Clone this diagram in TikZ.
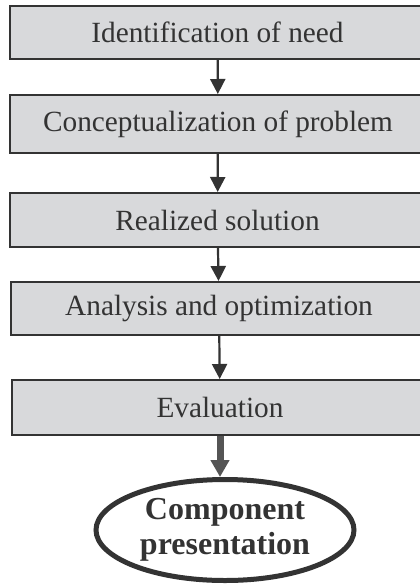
\documentclass[tikz,border=0pt]{standalone}
\usepackage{fontspec}
\setmainfont{Liberation Serif}
\usetikzlibrary{shapes.geometric,arrows.meta}
\definecolor{boxfill}{HTML}{D8D9DB}
\definecolor{inkdark}{HTML}{333333}
\definecolor{arrowgray}{HTML}{555555}
\begin{document}
\begin{tikzpicture}[x=1pt,y=-1pt,
  stagebox/.style={rectangle, draw=inkdark, fill=boxfill, line width=2pt,
    inner sep=0pt, text=inkdark, font=\fontsize{29.3}{34}\selectfont},
  thinarr/.style={draw=inkdark, line width=2.2pt,
    -{Triangle[length=15pt,width=15pt]}},
  thickarr/.style={draw=arrowgray, line width=7pt,
    -{Triangle[length=17pt,width=18pt]}},
  outcome/.style={ellipse, draw=inkdark, line width=5pt, inner sep=0pt,
    align=center, text=inkdark,
    font=\bfseries\fontsize{32}{35.5}\selectfont}]
  % page frame; the stage boxes run past the right edge
  \clip (0,0) rectangle (420,584);

  % stages of the process
  \node[stagebox, minimum width=416pt, minimum height=53pt] (need)    at (217.5,32.5) {Identification of need};
  \node[stagebox, minimum width=417pt, minimum height=58pt] (concept) at (218,124)    {Conceptualization of problem};
  \node[stagebox, minimum width=416pt, minimum height=54pt] (solve)   at (217.5,220)  {Realized solution};
  \node[stagebox, minimum width=416pt, minimum height=53pt] (analyse) at (219,308.5)  {Analysis and optimization};
  \node[stagebox, minimum width=416pt, minimum height=55pt] (assess)  at (220,407.5)  {Evaluation};

  % final outcome
  \node[outcome, minimum width=258pt, minimum height=101pt] (present) at (225,530) {Component\\presentation};

  % flow between the stages
  \draw[thinarr] (need) -- (concept);
  \draw[thinarr] (concept) -- (solve);
  \draw[thinarr] (solve) -- (analyse);
  \draw[thinarr] (analyse) -- (assess);
  \draw[thickarr] (assess.south) -- (assess.south |- present.north);
\end{tikzpicture}
\end{document}
